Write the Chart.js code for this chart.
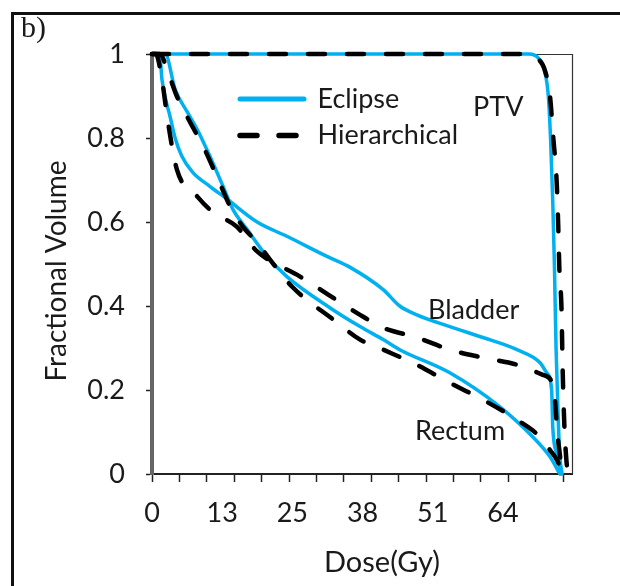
<!DOCTYPE html>
<html>
<head>
<meta charset="utf-8">
<script src="https://cdn.jsdelivr.net/npm/chart.js@4.4.0/dist/chart.umd.min.js"></script>
<style>
  html, body { margin: 0; padding: 0; background: #fff; }
  #wrap { position: relative; width: 620px; height: 586px; overflow: hidden; }
  #frame { position: absolute; left: 11px; top: 12px; width: 700px; height: 700px;
           border-left: 3px solid #111; border-top: 3px solid #111; }
  #stage { position: absolute; left: 0; top: 0; }
</style>
</head>
<body>
<div id="wrap">
  <div id="frame"></div>
  <canvas id="stage" width="620" height="586"></canvas>
</div>
<script>
// dose (Gy) / fractional volume
const ptvEclipseDose = [0, 68.5, 70.2, 71.3, 72.0, 72.4, 72.8, 73.1, 73.4, 73.8, 74.1, 74.5];
const ptvEclipseVol  = [1, 1, 0.99, 0.96, 0.9, 0.8, 0.65, 0.5, 0.3, 0.13, 0.04, 0];

const ptvHierDose = [0, 68.2, 70.0, 71.4, 72.3, 72.9, 73.5, 73.8, 74.0, 74.4, 74.6, 74.9, 75.3, 75.6];
const ptvHierVol  = [1, 1, 0.99, 0.96, 0.9, 0.8, 0.7, 0.59, 0.49, 0.39, 0.25, 0.12, 0.03, 0];

const bladderEclipseDose = [0, 1.4, 1.8, 3.3, 4.2, 5.4, 7.4, 10.5, 13.6, 19.1, 24.5, 31.8, 36.0, 42.0, 45.0, 48.1, 54.1, 60.1, 66.3, 70.5, 71.7, 72.6, 72.8, 73.6, 74.3];
const bladderEclipseVol  = [1, 1, 0.94, 0.85, 0.8, 0.757, 0.718, 0.685, 0.655, 0.6, 0.566, 0.518, 0.492, 0.439, 0.4, 0.379, 0.351, 0.325, 0.296, 0.265, 0.241, 0.2, 0.112, 0.045, 0];

const bladderHierDose = [0, 0.7, 1.8, 2.9, 4.5, 8.2, 11.1, 15.4, 19.1, 26.9, 37.8, 42.0, 48.1, 54.1, 60.1, 66.3, 71.0, 72.6, 73.2, 73.6, 74.1, 74.6];
const bladderHierVol  = [1, 1, 0.94, 0.838, 0.726, 0.661, 0.623, 0.589, 0.53, 0.47, 0.379, 0.348, 0.325, 0.296, 0.277, 0.26, 0.236, 0.22, 0.177, 0.105, 0.045, 0];

const rectumEclipseDose = [0, 2.4, 4.2, 6.4, 8.2, 10.5, 12.9, 14.7, 17.3, 20.9, 24.5, 32.3, 37.8, 42.0, 45.0, 54.1, 63.2, 69.2, 72.3, 74.1];
const rectumEclipseVol  = [1, 1, 0.916, 0.862, 0.821, 0.757, 0.685, 0.63, 0.582, 0.518, 0.47, 0.396, 0.351, 0.32, 0.296, 0.241, 0.16, 0.088, 0.041, 0];

const rectumHierDose = [0, 1.45, 2.9, 4.5, 6.9, 9.3, 12.0, 14.2, 16.5, 19.1, 21.4, 25.6, 32.9, 37.8, 42.0, 48.1, 54.1, 60.1, 66.3, 70.5, 72.3, 73.6, 74.6];
const rectumHierVol  = [1, 1, 0.957, 0.9, 0.838, 0.78, 0.702, 0.637, 0.589, 0.551, 0.511, 0.444, 0.368, 0.32, 0.296, 0.26, 0.217, 0.177, 0.129, 0.088, 0.057, 0.033, 0];

// axes
const doseMax = 76.3;
const doseTickValues = [0, 12.75, 25.5, 38.25, 51, 63.75];
const doseTickLabels = ['0', '13', '25', '38', '51', '64'];
const doseMinorTicks = [0, 4.98, 9.96, 14.94, 19.92, 24.9, 29.88, 34.86, 39.84, 44.82, 49.8, 54.78, 59.76, 64.74, 69.72, 74.7];
const volTickValues = [0, 0.2, 0.4, 0.6, 0.8, 1];
const volTickLabels = ['0', '0.2', '0.4', '0.6', '0.8', '1'];

function toPoints(dose, vol) {
  return dose.map((d, i) => ({ x: d, y: vol[i] }));
}

const blue = '#00B0F0';
const fontFamily = 'Lato';
const textColor = '#1a1a1a';

const eclipseStyle = {
  borderColor: blue, backgroundColor: blue, borderWidth: 3.5,
  borderCapStyle: 'round', borderJoinStyle: 'round',
  pointRadius: 0, cubicInterpolationMode: 'monotone', fill: false, clip: false, order: 1
};
const hierStyle = {
  borderColor: '#000', backgroundColor: '#000', borderWidth: 4.5, borderDash: [17, 22],
  borderCapStyle: 'round', borderJoinStyle: 'round',
  pointRadius: 0, cubicInterpolationMode: 'monotone', fill: false, clip: false, order: 0
};

// text on the figure (labels, axis titles) and the plot frame
const textPlugin = {
  id: 'figureText',
  afterLayout(chart) {
    // put the legend inside the plot, like the original
    const lg = chart.legend;
    lg.left = 230.5;
    lg.top = 76;
    lg.right = lg.left + lg.width;
    lg.bottom = 474;
  },
  beforeDatasetsDraw(chart) {
    const { ctx, chartArea: a } = chart;
    ctx.save();
    ctx.strokeStyle = '#333';
    ctx.lineWidth = 1.2;
    ctx.beginPath();
    ctx.moveTo(a.left, a.top + 0.5);
    ctx.lineTo(a.right + 0.5, a.top + 0.5);
    ctx.lineTo(a.right + 0.5, a.bottom);
    ctx.stroke();
    ctx.restore();
  },
  afterDraw(chart) {
    const ctx = chart.ctx;
    ctx.save();
    ctx.fillStyle = textColor;
    ctx.font = '30px "Liberation Serif"';
    ctx.textAlign = 'left';
    ctx.textBaseline = 'alphabetic';
    ctx.fillText('b)', 21, 37);

    ctx.font = '27px ' + fontFamily;
    ctx.textBaseline = 'middle';
    ctx.fillText('PTV', 473, 107);
    ctx.fillText('Bladder', 428, 310);
    ctx.fillText('Rectum', 415, 431);

    ctx.font = '29px ' + fontFamily;
    ctx.textAlign = 'center';
    ctx.fillText('Dose(Gy)', 382, 563);
    ctx.font = '28px ' + fontFamily;
    ctx.translate(57, 271);
    ctx.rotate(-Math.PI / 2);
    ctx.fillText('Fractional Volume', 0, 0);
    ctx.restore();
  }
};

new Chart(document.getElementById('stage'), {
  type: 'line',
  data: {
    datasets: [
      { label: 'Eclipse', data: toPoints(ptvEclipseDose, ptvEclipseVol), ...eclipseStyle },
      { label: 'Hierarchical', data: toPoints(ptvHierDose, ptvHierVol), ...hierStyle },
      { label: 'Bladder Eclipse', data: toPoints(bladderEclipseDose, bladderEclipseVol), ...eclipseStyle },
      { label: 'Bladder Hierarchical', data: toPoints(bladderHierDose, bladderHierVol), ...hierStyle },
      { label: 'Rectum Eclipse', data: toPoints(rectumEclipseDose, rectumEclipseVol), ...eclipseStyle },
      { label: 'Rectum Hierarchical', data: toPoints(rectumHierDose, rectumHierVol), ...hierStyle }
    ]
  },
  options: {
    responsive: false,
    animation: false,
    layout: { padding: { left: 0, top: 54, right: 48, bottom: 0 } },
    scales: {
      x: {
        type: 'linear', position: 'bottom', weight: 0, min: 0, max: doseMax,
        afterBuildTicks: s => { s.ticks = doseMinorTicks.map(v => ({ value: v })); },
        ticks: { display: false },
        grid: { drawOnChartArea: false, tickLength: 8, tickWidth: 1.5, tickColor: '#222' },
        border: { color: '#222', width: 2 },
        afterFit: s => { s.height = 0; }
      },
      xLabels: {
        type: 'linear', position: 'bottom', weight: 1, min: 0, max: doseMax,
        afterBuildTicks: s => { s.ticks = doseTickValues.map(v => ({ value: v })); },
        ticks: {
          autoSkip: false, maxRotation: 0, padding: 15, color: textColor,
          font: { family: fontFamily, size: 27 },
          callback: (v, i) => doseTickLabels[i]
        },
        grid: { display: false },
        border: { display: false },
        afterFit: s => { s.height = 112; }
      },
      y: {
        type: 'linear', min: 0, max: 1,
        afterBuildTicks: s => { s.ticks = volTickValues.map(v => ({ value: v })); },
        ticks: {
          padding: 21, color: textColor,
          font: { family: fontFamily, size: 27 },
          callback: (v, i) => volTickLabels[i]
        },
        grid: { drawOnChartArea: false, tickLength: 6, tickWidth: 1.5, tickColor: '#222' },
        border: { color: '#666', width: 4 },
        afterFit: s => { s.width = 152; }
      }
    },
    plugins: {
      legend: {
        position: 'chartArea',
        align: 'start',
        labels: {
          usePointStyle: true, pointStyle: 'line', pointStyleWidth: 64,
          padding: 9.5, color: textColor,
          font: { family: fontFamily, size: 27 },
          filter: item => item.datasetIndex < 2,
          sort: (a, b) => a.datasetIndex - b.datasetIndex,
          generateLabels: chart => Chart.defaults.plugins.legend.labels.generateLabels(chart).map(item => {
            const ds = chart.data.datasets[item.datasetIndex];
            item.lineWidth = item.datasetIndex === 0 ? 5 : 5.5;
            item.strokeStyle = ds.borderColor;
            item.lineDash = ds.borderDash || [];
            item.lineCap = 'round';
            return item;
          })
        }
      },
      tooltip: { enabled: false }
    }
  },
  plugins: [textPlugin]
});
</script>
</body>
</html>
